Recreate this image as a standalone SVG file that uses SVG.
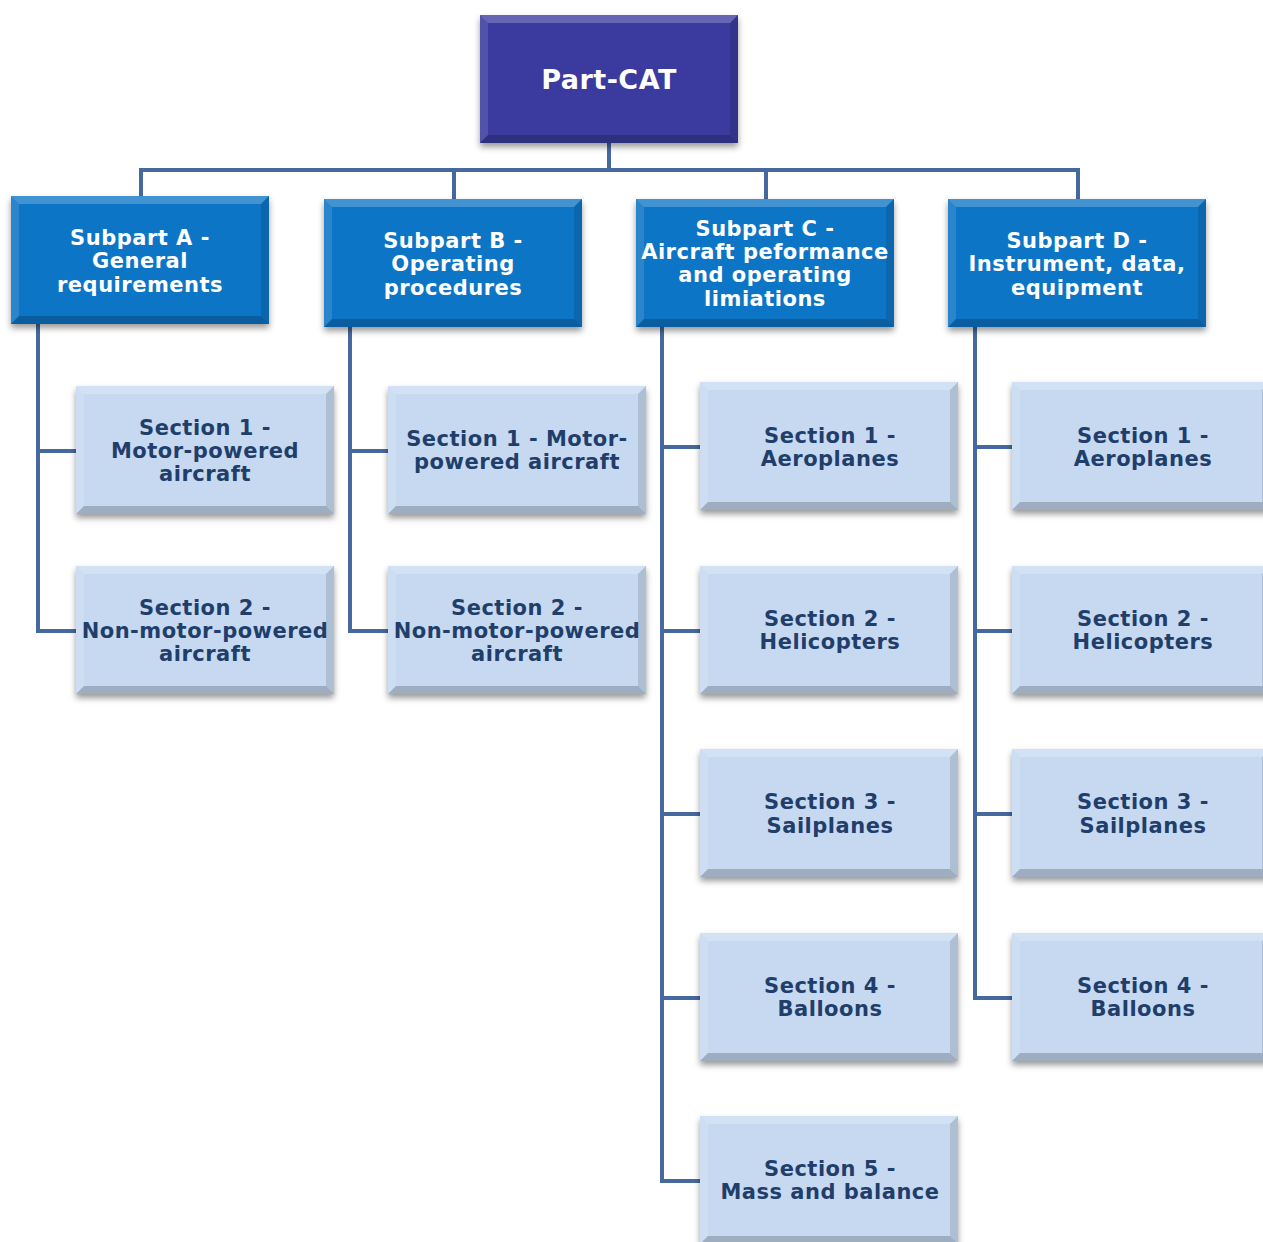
<svg xmlns="http://www.w3.org/2000/svg" xmlns:xlink="http://www.w3.org/1999/xlink" width="1263" height="1242" viewBox="0 0 1263 1242">
<style>
text{font-family:"DejaVu Sans","Verdana",sans-serif;font-weight:bold;text-anchor:middle;letter-spacing:0.5px}
.top{fill:#3a3a9f}
.sub{fill:#0a74c6}
.sec{fill:#c6d9f1}
.tw{fill:#ffffff;font-size:21px}
.tt{fill:#ffffff;font-size:27px}
.ts{fill:#213e6b;font-size:21px}
.conn{fill:none;stroke:#45699e;stroke-width:4}
</style>
<defs>
<filter id="sh" x="-10%" y="-10%" width="120%" height="130%">
<feDropShadow dx="0" dy="4" stdDeviation="3" flood-color="#000" flood-opacity="0.4"/>
</filter>
<g id="bevel">
<polygon points="0,0 258,0 250,8 8,8" fill="#fff" fill-opacity="0.22"/>
<polygon points="0,0 8,8 8,120 0,128" fill="#fff" fill-opacity="0.12"/>
<polygon points="258,0 258,128 250,120 250,8" fill="#000" fill-opacity="0.12"/>
<polygon points="0,128 8,120 250,120 258,128" fill="#000" fill-opacity="0.2"/>
</g>
</defs>
<g id="connectors" class="conn">
<path d="M609,143 V170 M141,196 V170 H1078 V199 M454,170 V199 M766,170 V199"/>
<path d="M38,324 V631 H76 M38,451 H76"/>
<path d="M350,327 V631 H388 M350,451 H388"/>
<path d="M662,327 V1181 H700 M662,447 H700 M662,631 H700 M662,814 H700 M662,998 H700"/>
<path d="M975,327 V998 H1012 M975,447 H1012 M975,631 H1012 M975,814 H1012"/>
</g>
<g id="part-cat"><rect class="top" x="480" y="15" width="258" height="128" filter="url(#sh)"/><use href="#bevel" x="480" y="15"/><text class="tt" x="609" y="89">Part-CAT</text></g>
<g id="subpart-a"><rect class="sub" x="11" y="196" width="258" height="128" filter="url(#sh)"/><use href="#bevel" x="11" y="196"/><text class="tw" x="140" y="245">Subpart A -</text><text class="tw" x="140" y="268">General</text><text class="tw" x="140" y="292">requirements</text></g>
<g id="subpart-b"><rect class="sub" x="324" y="199" width="258" height="128" filter="url(#sh)"/><use href="#bevel" x="324" y="199"/><text class="tw" x="453" y="248">Subpart B -</text><text class="tw" x="453" y="271">Operating</text><text class="tw" x="453" y="295">procedures</text></g>
<g id="subpart-c"><rect class="sub" x="636" y="199" width="258" height="128" filter="url(#sh)"/><use href="#bevel" x="636" y="199"/><text class="tw" x="765" y="236">Subpart C -</text><text class="tw" x="765" y="259">Aircraft peformance</text><text class="tw" x="765" y="282">and operating</text><text class="tw" x="765" y="306">limiations</text></g>
<g id="subpart-d"><rect class="sub" x="948" y="199" width="258" height="128" filter="url(#sh)"/><use href="#bevel" x="948" y="199"/><text class="tw" x="1077" y="248">Subpart D -</text><text class="tw" x="1077" y="271">Instrument, data,</text><text class="tw" x="1077" y="295">equipment</text></g>
<g id="a-s1"><rect class="sec" x="76" y="386" width="258" height="128" filter="url(#sh)"/><use href="#bevel" x="76" y="386"/><text class="ts" x="205" y="435">Section 1 -</text><text class="ts" x="205" y="458">Motor-powered</text><text class="ts" x="205" y="481">aircraft</text></g>
<g id="a-s2"><rect class="sec" x="76" y="566" width="258" height="128" filter="url(#sh)"/><use href="#bevel" x="76" y="566"/><text class="ts" x="205" y="615">Section 2 -</text><text class="ts" x="205" y="638">Non-motor-powered</text><text class="ts" x="205" y="661">aircraft</text></g>
<g id="b-s1"><rect class="sec" x="388" y="386" width="258" height="128" filter="url(#sh)"/><use href="#bevel" x="388" y="386"/><text class="ts" x="517" y="446">Section 1 - Motor-</text><text class="ts" x="517" y="469">powered aircraft</text></g>
<g id="b-s2"><rect class="sec" x="388" y="566" width="258" height="128" filter="url(#sh)"/><use href="#bevel" x="388" y="566"/><text class="ts" x="517" y="615">Section 2 -</text><text class="ts" x="517" y="638">Non-motor-powered</text><text class="ts" x="517" y="661">aircraft</text></g>
<g id="c-s1"><rect class="sec" x="700" y="382" width="258" height="128" filter="url(#sh)"/><use href="#bevel" x="700" y="382"/><text class="ts" x="830" y="443">Section 1 -</text><text class="ts" x="830" y="466">Aeroplanes</text></g>
<g id="c-s2"><rect class="sec" x="700" y="566" width="258" height="128" filter="url(#sh)"/><use href="#bevel" x="700" y="566"/><text class="ts" x="830" y="626">Section 2 -</text><text class="ts" x="830" y="649">Helicopters</text></g>
<g id="c-s3"><rect class="sec" x="700" y="749" width="258" height="128" filter="url(#sh)"/><use href="#bevel" x="700" y="749"/><text class="ts" x="830" y="809">Section 3 -</text><text class="ts" x="830" y="833">Sailplanes</text></g>
<g id="c-s4"><rect class="sec" x="700" y="933" width="258" height="128" filter="url(#sh)"/><use href="#bevel" x="700" y="933"/><text class="ts" x="830" y="993">Section 4 -</text><text class="ts" x="830" y="1016">Balloons</text></g>
<g id="c-s5"><rect class="sec" x="700" y="1116" width="258" height="128" filter="url(#sh)"/><use href="#bevel" x="700" y="1116"/><text class="ts" x="830" y="1176">Section 5 -</text><text class="ts" x="830" y="1199">Mass and balance</text></g>
<g id="d-s1"><rect class="sec" x="1012" y="382" width="258" height="128" filter="url(#sh)"/><use href="#bevel" x="1012" y="382"/><text class="ts" x="1143" y="443">Section 1 -</text><text class="ts" x="1143" y="466">Aeroplanes</text></g>
<g id="d-s2"><rect class="sec" x="1012" y="566" width="258" height="128" filter="url(#sh)"/><use href="#bevel" x="1012" y="566"/><text class="ts" x="1143" y="626">Section 2 -</text><text class="ts" x="1143" y="649">Helicopters</text></g>
<g id="d-s3"><rect class="sec" x="1012" y="749" width="258" height="128" filter="url(#sh)"/><use href="#bevel" x="1012" y="749"/><text class="ts" x="1143" y="809">Section 3 -</text><text class="ts" x="1143" y="833">Sailplanes</text></g>
<g id="d-s4"><rect class="sec" x="1012" y="933" width="258" height="128" filter="url(#sh)"/><use href="#bevel" x="1012" y="933"/><text class="ts" x="1143" y="993">Section 4 -</text><text class="ts" x="1143" y="1016">Balloons</text></g>
</svg>
